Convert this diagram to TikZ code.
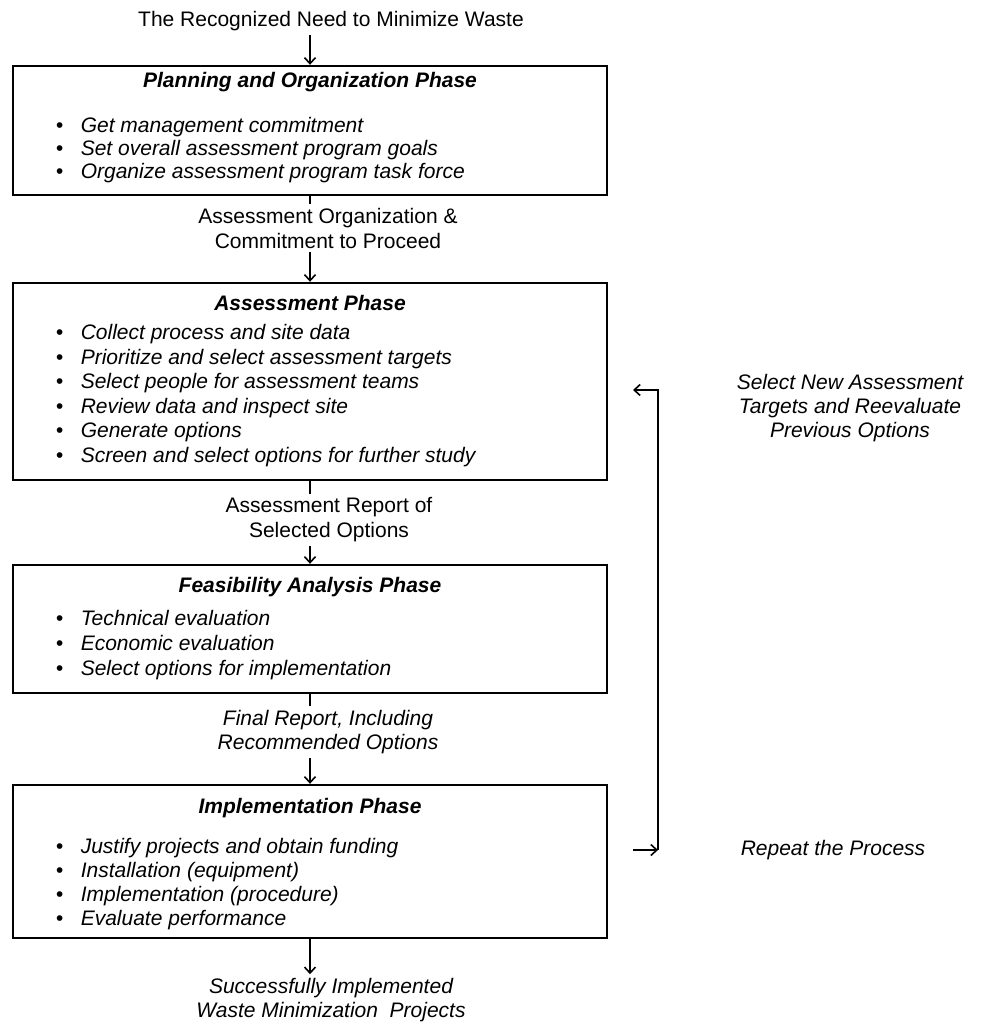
\documentclass[tikz,border=0pt]{standalone}
\usepackage{fontspec}
\setmainfont{Liberation Sans}
\usetikzlibrary{arrows.meta, positioning}
\newcommand{\bul}[1]{\makebox[25pt][l]{\textbullet}#1}

\begin{document}
\begin{tikzpicture}[x=1pt, y=-1pt, line width=1.6pt,
      every node/.style={font=\fontsize{21}{24}\selectfont},
      phase/.style={draw, line width=2.4pt, minimum width=594pt, inner sep=0pt},
      ttl/.style={font=\fontsize{21}{24}\selectfont\bfseries\itshape},
      itm/.style={anchor=west, inner sep=0pt, text height=15pt, text depth=4pt,
                  font=\fontsize{21}{24}\selectfont\itshape},
      lbl/.style={align=center, inner sep=0pt, outer sep=4pt,
                  font=\fontsize{21}{25}\selectfont},
      note/.style={lbl, font=\fontsize{21}{24}\selectfont\itshape},
      >={Straight Barb[length=6pt, width=11pt]}]
    \useasboundingbox (0,0) rectangle (990,1024);

    % phases
    \node[phase, minimum height=129pt] (plan) at (310,130.5) {};
    \node[phase, minimum height=197pt] (assess) at (310,381.5) {};
    \node[phase, minimum height=128pt] (feas) at (310,629) {};
    \node[phase, minimum height=153pt] (impl) at (310,861.5) {};

    \node[ttl] (plan-t) at (310,82) {Planning and Organization Phase};
    \node[ttl] (assess-t) at (310,303) {Assessment Phase};
    \node[ttl] (feas-t) at (310,587) {Feasibility Analysis Phase};
    \node[ttl] (impl-t) at (310,808) {Implementation Phase};

    \foreach \t [count=\i] in {Get management commitment,
        Set overall assessment program goals, Organize assessment program task force}
      \node[itm] (plan-\i) at (55,{104+23*\i}) {\bul{\t}};
    \foreach \t [count=\i] in {Collect process and site data,
        Prioritize and select assessment targets, Select people for assessment teams,
        Review data and inspect site, Generate options,
        Screen and select options for further study}
      \node[itm] (assess-\i) at (55,{309.5+24.5*\i}) {\bul{\t}};
    \foreach \t [count=\i] in {Technical evaluation, Economic evaluation,
        Select options for implementation}
      \node[itm] (feas-\i) at (55,{595+25*\i}) {\bul{\t}};
    \foreach \t [count=\i] in {Justify projects and obtain funding,
        Installation (equipment), Implementation (procedure), Evaluate performance}
      \node[itm] (impl-\i) at (55,{824+24*\i}) {\bul{\t}};

    % outputs between phases
    \node[lbl] (need) at (331,21) {The Recognized Need to Minimize Waste};
    \node[lbl] (lab1) at (328,228) {Assessment Organization \&\\Commitment to Proceed};
    \node[lbl] (lab2) at (329,520) {Assessment Report of\\Selected Options};
    \node[note] (lab3) at (328,732) {Final Report, Including\\Recommended Options};
    \node[note] (done) at (331,1000) {Successfully Implemented\\Waste Minimization\ \ Projects};

    \draw[->] (need.south -| plan.north) -- (plan.north);
    \draw (plan.south) -- (plan.south |- lab1.north);
    \draw[->] (lab1.south -| assess.north) -- (assess.north);
    \draw (assess.south) -- (assess.south |- lab2.north);
    \draw[->] (lab2.south -| feas.north) -- (feas.north);
    \draw (feas.south) -- (feas.south |- lab3.north);
    \draw[->] (lab3.south -| impl.north) -- (impl.north);
    \draw[->] (impl.south) -- (impl.south |- done.north);

    % repeat loop
    \coordinate (lp-top) at (633,390);
    \coordinate (lp-bot) at (633,850);
    \draw[->] (lp-bot) -- ++(25,0) coordinate (lp-c);
    \draw[->] (lp-c) |- (lp-top);
    \node[note] (again) at (850,408) {Select New Assessment\\Targets and Reevaluate\\Previous Options};
    \node[note] (repeat) at (833,850) {Repeat the Process};
  \end{tikzpicture}
\end{document}
